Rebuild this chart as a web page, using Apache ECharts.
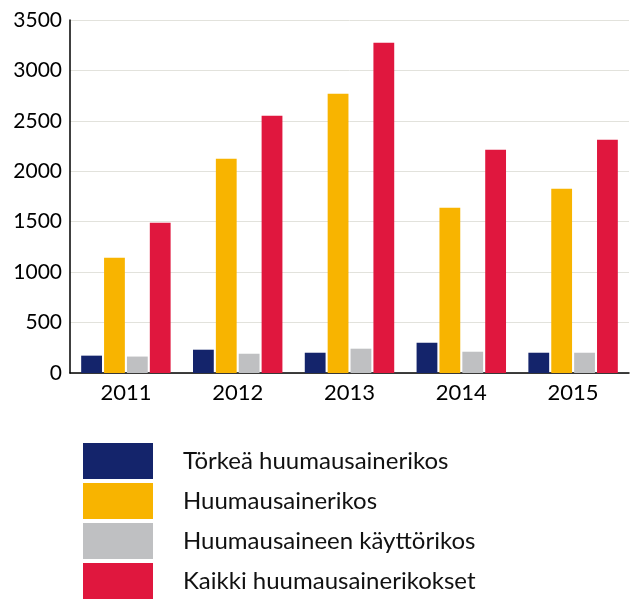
<!DOCTYPE html>
<html>
<head>
<meta charset="utf-8">
<script src="https://cdn.jsdelivr.net/npm/echarts@6/dist/echarts.min.js"></script>
<style>
  html, body { margin: 0; padding: 0; background: #fff; }
  #chart { width: 637px; height: 604px; }
</style>
</head>
<body>
<div id="chart"></div>
<script>
const years = ['2011', '2012', '2013', '2014', '2015'];
const torkea = [172, 231, 201, 300, 201];
const huumausainerikos = [1143, 2124, 2768, 1639, 1827];
const kayttorikos = [163, 191, 241, 211, 201];
const kaikki = [1490, 2550, 3274, 2214, 2313];
const yTicks = { min: 0, max: 3500, interval: 500 };

const seriesDefs = [
    { name: 'Törkeä huumausainerikos', data: torkea, color: '#14246b' },
    { name: 'Huumausainerikos', data: huumausainerikos, color: '#f8b400' },
    { name: 'Huumausaineen käyttörikos', data: kayttorikos, color: '#bfc0c2' },
    { name: 'Kaikki huumausainerikokset', data: kaikki, color: '#e0173e' }
];

const chart = echarts.init(document.getElementById('chart'));
chart.setOption({
    animation: false,
    textStyle: { fontFamily: 'Lato, "DejaVu Sans", sans-serif' },
    grid: { left: 70, right: 8, top: 20, bottom: 231 },
    legend: {
        orient: 'vertical',
        left: 83,
        top: 443,
        itemWidth: 70,
        itemHeight: 36,
        itemGap: 4,
        icon: 'rect',
        padding: 0,
        textStyle: { fontSize: 24, color: '#111', padding: [6, 0, 0, 25] },
        data: seriesDefs.map(s => s.name)
    },
    xAxis: {
        type: 'category',
        data: years,
        axisLine: { lineStyle: { color: '#000', width: 1.5 } },
        axisTick: { show: false },
        axisLabel: { fontSize: 22, color: '#000', margin: 9 }
    },
    yAxis: {
        type: 'value',
        min: yTicks.min,
        max: yTicks.max,
        interval: yTicks.interval,
        axisLine: { show: true, lineStyle: { color: '#000', width: 1.5 } },
        axisTick: { show: false },
        splitLine: { lineStyle: { color: '#e2e2dc', width: 1 } },
        axisLabel: { fontSize: 21, color: '#000', margin: 8, formatter: v => String(v) }
    },
    series: seriesDefs.map(s => ({
        name: s.name,
        type: 'bar',
        data: s.data,
        barGap: '10%',
        barCategoryGap: '20%',
        itemStyle: { color: s.color }
    }))
});
</script>
</body>
</html>
